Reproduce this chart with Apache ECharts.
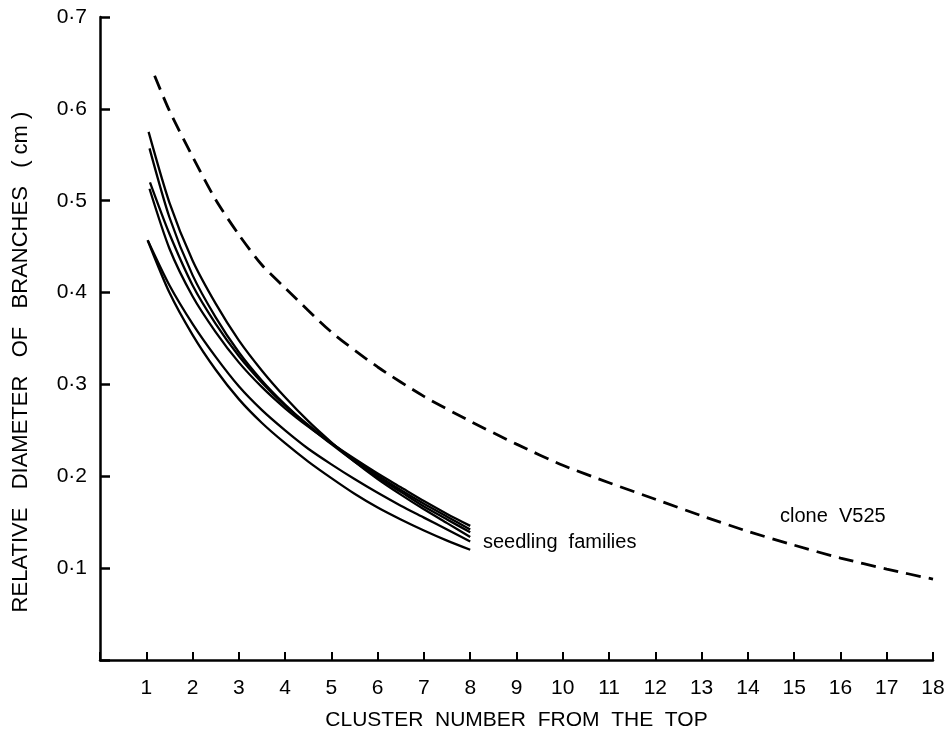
<!DOCTYPE html>
<html>
<head>
<meta charset="utf-8">
<script src="https://cdn.jsdelivr.net/npm/echarts@6/dist/echarts.min.js"></script>
<style>
  html, body { margin: 0; padding: 0; background: #fff; }
  #chart { width: 951px; height: 732px; }
</style>
</head>
<body>
<div id="chart"></div>
<script>
// cluster positions shared by the seedling family curves (after their own start point)
const seedlingX = [1.5, 2, 2.5, 3, 3.5, 4, 4.5, 5, 5.5, 6, 6.5, 7, 7.5, 8]
const familyStartX = [1.05, 1.07, 1.08, 1.07, 1.03, 1.03]
// first value belongs to familyStartX, the rest to seedlingX
const familyA = [0.575, 0.498, 0.435, 0.388, 0.348, 0.315, 0.286, 0.260, 0.237, 0.216, 0.197, 0.180, 0.164, 0.149, 0.134]
const familyB = [0.557, 0.482, 0.419, 0.373, 0.335, 0.304, 0.278, 0.255, 0.235, 0.216, 0.199, 0.183, 0.167, 0.153, 0.139]
const familyC = [0.520, 0.464, 0.408, 0.366, 0.331, 0.302, 0.277, 0.256, 0.236, 0.218, 0.201, 0.185, 0.170, 0.156, 0.142]
const familyD = [0.513, 0.448, 0.396, 0.357, 0.324, 0.297, 0.274, 0.254, 0.236, 0.219, 0.203, 0.188, 0.173, 0.159, 0.146]
const familyE = [0.457, 0.400, 0.354, 0.316, 0.284, 0.258, 0.236, 0.216, 0.198, 0.181, 0.166, 0.153, 0.141, 0.130, 0.120]
const familyF = [0.457, 0.408, 0.366, 0.330, 0.298, 0.272, 0.250, 0.230, 0.213, 0.197, 0.182, 0.168, 0.155, 0.142, 0.129]

const cloneX = [1.18, 1.5, 2, 2.5, 3, 3.5, 4, 5, 6, 7, 8, 9, 10, 11, 12, 13, 14, 15, 16, 17, 18]
const cloneV525 = [0.636, 0.598, 0.548, 0.501, 0.463, 0.430, 0.405, 0.357, 0.319, 0.287, 0.260, 0.235, 0.212, 0.193, 0.175, 0.157, 0.140, 0.125, 0.111, 0.099, 0.088]

const families = [familyA, familyB, familyC, familyD, familyE, familyF]

const chart = echarts.init(document.getElementById('chart'))

const seedlingSeries = families.map((vals, i) => ({
  type: 'line',
  smooth: 0.25,
  showSymbol: false,
  lineStyle: { color: '#000', width: 2.3 },
  data: vals.map((v, j) => [j === 0 ? familyStartX[i] : seedlingX[j - 1], v])
}))

chart.setOption({
  animation: false,
  grid: { left: 100, right: 18, top: 17, bottom: 72, containLabel: false, outerBoundsMode: 'none' },
  xAxis: {
    type: 'value',
    min: 0,
    max: 18,
    interval: 1,
    name: 'CLUSTER  NUMBER  FROM  THE  TOP',
    nameLocation: 'middle',
    nameGap: 50,
    nameTextStyle: { fontFamily: 'Liberation Sans', fontSize: 21, color: '#000' },
    axisLine: { lineStyle: { color: '#000', width: 2.5 } },
    axisTick: { inside: true, length: 8, lineStyle: { color: '#000', width: 2 } },
    axisLabel: {
      margin: 18,
      fontFamily: 'Liberation Sans',
      fontSize: 21,
      color: '#000',
      formatter: v => (v === 0 ? '' : String(v))
    },
    splitLine: { show: false }
  },
  yAxis: {
    type: 'value',
    min: 0,
    max: 0.7,
    interval: 0.1,
    axisLine: { show: true, lineStyle: { color: '#000', width: 2.5 } },
    axisTick: { show: true, inside: true, length: 10, lineStyle: { color: '#000', width: 2.5 } },
    axisLabel: {
      margin: 13,
      fontFamily: 'Liberation Sans',
      fontSize: 21,
      color: '#000',
      formatter: v => (v === 0 ? '' : v.toFixed(1).replace('.', '·'))
    },
    splitLine: { show: false }
  },
  graphic: [
    {
      type: 'text',
      x: 21,
      y: 362,
      rotation: Math.PI / 2,
      style: {
        text: 'RELATIVE   DIAMETER   OF   BRANCHES   ( cm )',
        fontFamily: 'Liberation Sans',
        fontSize: 22,
        fill: '#000',
        align: 'center',
        verticalAlign: 'middle'
      }
    },
    {
      type: 'text',
      left: 483,
      top: 532,
      style: { text: 'seedling  families', fontFamily: 'Liberation Sans', fontSize: 20, fill: '#000' }
    },
    {
      type: 'text',
      left: 780,
      top: 506,
      style: { text: 'clone  V525', fontFamily: 'Liberation Sans', fontSize: 20, fill: '#000' }
    }
  ],
  series: seedlingSeries.concat([{
    type: 'line',
    smooth: 0.25,
    showSymbol: false,
    lineStyle: { color: '#000', width: 2.8, type: [15, 8] },
    data: cloneV525.map((v, j) => [cloneX[j], v])
  }])
})
</script>
</body>
</html>
